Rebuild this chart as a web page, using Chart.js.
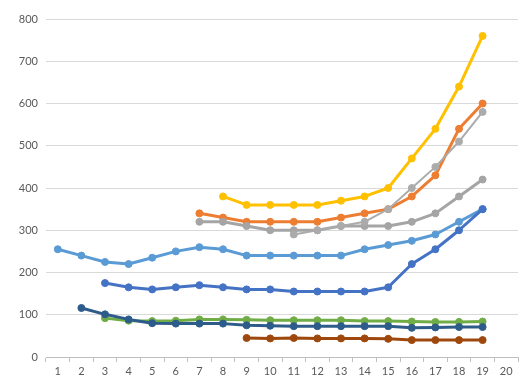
<!DOCTYPE html>
<html>
<head>
<meta charset="utf-8">
<script src="https://cdn.jsdelivr.net/npm/chart.js@4"></script>
<style>
  html, body { margin: 0; padding: 0; background: #fff; }
  canvas { display: block; }
</style>
</head>
<body>
<canvas id="chart" width="523" height="389"></canvas>
<script>
const labels = ['1','2','3','4','5','6','7','8','9','10','11','12','13','14','15','16','17','18','19','20'];

const lightBlue = [255,240,225,220,235,250,260,255,240,240,240,240,240,255,265,275,290,320,350,null];
const orange    = [null,null,null,null,null,null,340,330,320,320,320,320,330,340,350,380,430,540,600,null];
const grayA     = [null,null,null,null,null,null,320,320,310,300,300,300,310,310,310,320,340,380,420,null];
const yellow    = [null,null,null,null,null,null,null,380,360,360,360,360,370,380,400,470,540,640,760,null];
const blue      = [null,null,175,165,160,165,170,165,160,160,155,155,155,155,165,220,255,300,350,null];
const green     = [null,null,92,86,85,86,89,89,88,87,87,87,87,85,85,84,83,83,84,null];
const navy      = [null,116,101,89,80,79,79,79,75,74,73,73,73,73,73,69,70,71,71,null];
const brown     = [null,null,null,null,null,null,null,null,45,44,45,44,44,44,43,40,40,40,40,null];
const grayB     = [null,null,null,null,null,null,null,null,null,null,290,300,310,320,350,400,450,510,580,null];

const yMin = 0, yMax = 800, yStep = 100;

function series(data, color, width) {
  return {
    data: data,
    borderColor: color,
    backgroundColor: color,
    pointBackgroundColor: color,
    pointBorderColor: color,
    borderWidth: width || 3,
    pointRadius: 3.5,
    pointBorderWidth: 1,
    borderJoinStyle: 'round',
    borderCapStyle: 'round',
    tension: 0,
    spanGaps: false
  };
}

// Excel draws later series on top, Chart.js the other way round
const list = [
  series(lightBlue, '#5B9BD5'),
  series(orange, '#ED7D31'),
  series(grayA, '#A5A5A5'),
  series(yellow, '#FFC000'),
  series(blue, '#4472C4'),
  series(green, '#70AD47'),
  series(navy, '#2E5C8A'),
  series(brown, '#9E480E'),
  series(grayB, '#ABABAB', 2)
];
list.forEach((d, i) => { d.order = list.length - i; });

const font = { family: 'Lato, "Liberation Sans", sans-serif', size: 11 };

new Chart(document.getElementById('chart').getContext('2d'), {
  type: 'line',
  data: { labels: labels, datasets: list },
  options: {
    responsive: false,
    animation: false,
    layout: { padding: { top: 19, left: 0, right: 0, bottom: 0 } },
    plugins: { legend: { display: false }, tooltip: { enabled: false } },
    scales: {
      x: {
        type: 'category',
        offset: true,
        grid: { offset: true, drawOnChartArea: false, drawTicks: true, tickLength: 5, color: '#BFBFBF' },
        border: { display: true, color: '#BFBFBF' },
        ticks: { color: '#595959', font: font, padding: 3, maxRotation: 0, autoSkip: false },
        afterFit: s => { s.height = 32; }
      },
      y: {
        min: yMin,
        max: yMax,
        grid: { color: '#D9D9D9', drawTicks: false },
        border: { display: false },
        ticks: { stepSize: yStep, color: '#595959', font: font, padding: 8 },
        afterFit: s => { s.width = 46; }
      }
    }
  }
});
</script>
</body>
</html>
